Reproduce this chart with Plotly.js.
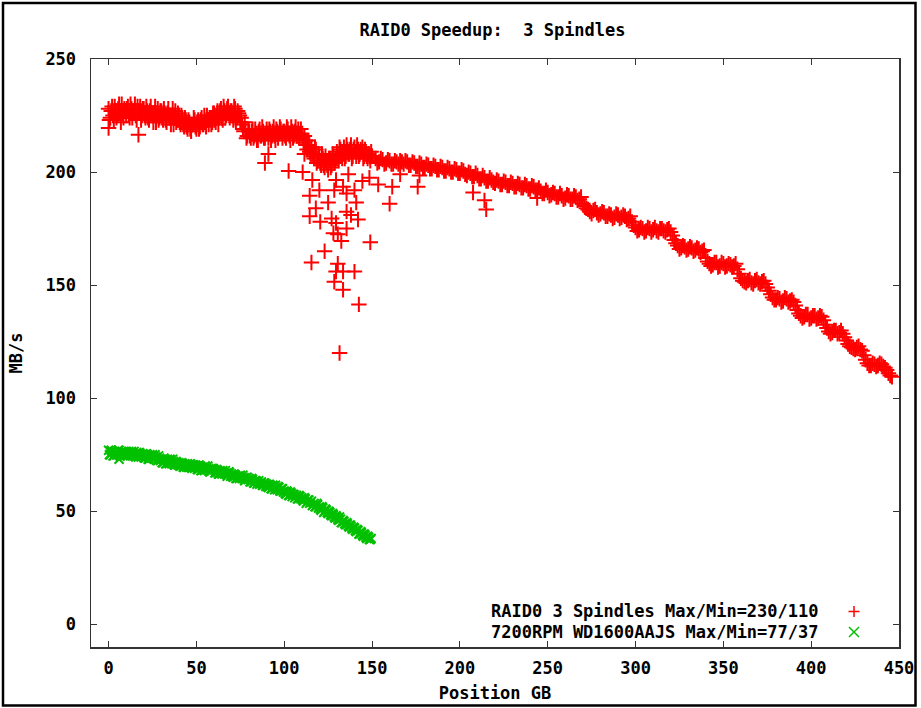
<!DOCTYPE html>
<html>
<head>
<meta charset="utf-8">
<script src="https://cdn.plot.ly/plotly-3.0.1.min.js"></script>
<style>html,body{margin:0;padding:0;background:#fff;}#chart{width:921px;height:708px;}</style>
</head>
<body>
<div id="chart"></div>
<script>
// ---- data ----
const xTicks = [0, 50, 100, 150, 200, 250, 300, 350, 400, 450];
const yTicks = [0, 50, 100, 150, 200, 250];

const redName = "RAID0 3 Spindles Max/Min=230/110";
const greenName = "7200RPM WD1600AAJS Max/Min=77/37";

// RAID0 band, 0..150 GB (whole GB)
const redXa = [0,1,2,3,4,5,6,7,8,9,10,11,12,13,14,15,16,17,18,19,20,21,22,23,24,25,26,27,28,29,30,31,32,33,34,35,36,37,38,39,40,41,42,43,44,45,46,47,48,49,50,51,52,53,54,55,56,57,58,59,60,61,62,63,64,65,66,67,68,69,70,71,72,73,74,75,76,77,78,79,80,81,82,83,84,85,86,87,88,89,90,91,92,93,94,95,96,97,98,99,100,101,102,103,104,105,106,107,108,109,110,111,112,113,114,115,116,117,118,119,120,121,122,123,124,125,126,127,128,129,130,131,132,133,134,135,136,137,138,139,140,141,142,143,144,145,146,147,148,149,150];
const redYa = [228,224,229,223,227,225,230,222,226,228,
  225,229,224,228,226,230,223,227,229,225,
  228,224,227,223,229,225,226,222,228,224,
  227,223,226,222,228,224,225,221,227,223,
  225,221,224,220,223,219,222,218,221,223,
  219,223,220,224,221,222,225,221,224,222,
  226,222,227,224,228,223,227,225,229,224,
  227,223,228,224,226,222,221,218,219,216,
  218,215,219,216,217,214,219,216,218,215,
  219,215,218,216,220,214,218,217,219,215,
  218,215,219,216,220,215,218,216,219,217,
  217,213,214,210,212,208,209,206,210,205,
  207,203,206,202,205,201,206,203,207,205,
  209,205,210,206,211,207,210,208,212,207,
  211,207,210,208,209,206,210,207,208,205,207];

// RAID0 band, 0.5..149.5 GB (half GB)
const redXd = [0.5,1.5,2.5,3.5,4.5,5.5,6.5,7.5,8.5,9.5,10.5,11.5,12.5,13.5,14.5,15.5,16.5,17.5,18.5,19.5,20.5,21.5,22.5,23.5,24.5,25.5,26.5,27.5,28.5,29.5,30.5,31.5,32.5,33.5,34.5,35.5,36.5,37.5,38.5,39.5,40.5,41.5,42.5,43.5,44.5,45.5,46.5,47.5,48.5,49.5,50.5,51.5,52.5,53.5,54.5,55.5,56.5,57.5,58.5,59.5,60.5,61.5,62.5,63.5,64.5,65.5,66.5,67.5,68.5,69.5,70.5,71.5,72.5,73.5,74.5,75.5,76.5,77.5,78.5,79.5,80.5,81.5,82.5,83.5,84.5,85.5,86.5,87.5,88.5,89.5,90.5,91.5,92.5,93.5,94.5,95.5,96.5,97.5,98.5,99.5,100.5,101.5,102.5,103.5,104.5,105.5,106.5,107.5,108.5,109.5,110.5,111.5,112.5,113.5,114.5,115.5,116.5,117.5,118.5,119.5,120.5,121.5,122.5,123.5,124.5,125.5,126.5,127.5,128.5,129.5,130.5,131.5,132.5,133.5,134.5,135.5,136.5,137.5,138.5,139.5,140.5,141.5,142.5,143.5,144.5,145.5,146.5,147.5,148.5,149.5];
const redYd = [223,227,225,229,224,228,226,230,224,227,
  228,225,230,224,227,225,229,226,223,228,
  225,229,224,227,226,222,229,225,223,227,
  224,228,223,226,225,221,228,224,222,226,
  222,225,221,224,220,223,219,221,224,220,
  222,219,223,221,225,220,223,224,221,226,
  223,225,221,227,224,229,224,228,226,227,
  225,229,222,227,225,224,219,222,215,219,
  216,218,215,219,214,218,216,220,215,217,
  217,219,214,218,216,219,215,220,217,218,
  216,220,217,214,218,216,220,217,215,219,
  215,216,212,214,209,211,207,211,204,208,
  204,208,203,207,203,206,202,208,204,206,
  207,211,208,209,206,212,208,210,206,210,
  209,212,207,210,211,207,209,206,207,209];

// RAID0 band, 152..446 GB (even GB)
const redXb = [152,154,156,158,160,162,164,166,168,170,172,174,176,178,180,182,184,186,188,190,192,194,196,198,200,202,204,206,208,210,212,214,216,218,220,222,224,226,228,230,232,234,236,238,240,242,244,246,248,250,252,254,256,258,260,262,264,266,268,270,272,274,276,278,280,282,284,286,288,290,292,294,296,298,300,302,304,306,308,310,312,314,316,318,320,322,324,326,328,330,332,334,336,338,340,342,344,346,348,350,352,354,356,358,360,362,364,366,368,370,372,374,376,378,380,382,384,386,388,390,392,394,396,398,400,402,404,406,408,410,412,414,416,418,420,422,424,426,428,430,432,434,436,438,440,442,444,446];
const redYb = [206,204.5,205.5,204,205,203.5,204.5,205,203.5,204.5,
  203,204,202.5,203.5,202,203,201.5,202.5,201,202,
  200.5,201.5,200,201,199.5,200.5,198.5,199.5,198,198.5,
  197,197.5,196,196.5,195,196,194.5,195.5,194,195,
  193.5,194.5,193,194,192.5,193.5,192,191.5,190.5,191,
  190,190.5,189,189.5,188.5,189.5,188,189,188,186,
  184,182.5,183,182,181.5,182,180.5,181,180,181,
  180,180.5,179.5,178,175.5,174.5,175,174,175,174.5,
  174,175,174,174.5,173.5,170,167.5,166.5,167,166,
  166.5,165.5,166,165,162,159.5,159,160,158.5,159.5,
  158.5,159,158.5,157,153,151.5,152,151,152,151,
  151.5,150.5,147.5,144.5,143.5,144,143,144,143,142.5,
  139,136.5,136,137,135.5,136.5,135.5,136,132.5,129.5,
  129,130,129,128.5,125.5,123,122,122.5,121.5,119,
  115.5,114.5,115,114.5,115,113.5,111,109.5];

// RAID0 band, 153..445 GB (odd GB)
const redXc = [153,155,157,159,161,163,165,167,169,171,173,175,177,179,181,183,185,187,189,191,193,195,197,199,201,203,205,207,209,211,213,215,217,219,221,223,225,227,229,231,233,235,237,239,241,243,245,247,249,251,253,255,257,259,261,263,265,267,269,271,273,275,277,279,281,283,285,287,289,291,293,295,297,299,301,303,305,307,309,311,313,315,317,319,321,323,325,327,329,331,333,335,337,339,341,343,345,347,349,351,353,355,357,359,361,363,365,367,369,371,373,375,377,379,381,383,385,387,389,391,393,395,397,399,401,403,405,407,409,411,413,415,417,419,421,423,425,427,429,431,433,435,437,439,441,443,445];
const redYc = [204,206,203.5,205.5,203.5,205,203.5,204.5,205,203,
  204.5,202.5,204,202,203.5,201.5,203,201,202.5,200.5,
  202,200,201.5,199.5,201,199,200,198,199.5,197,
  198.5,196,197.5,195.5,196.5,194.5,196,194,195.5,193.5,
  195,193,194.5,192.5,194,192,193,190.5,192,189.5,
  191,189,190.5,188,190,188,189.5,187.5,189,185,
  183.5,181.5,183.5,181,182.5,180.5,181.5,179.5,181.5,179.5,
  181,179,180.5,176.5,174,175.5,173.5,175.5,173.5,175.5,
  173.5,175,173.5,175,172,168.5,166,167.5,165.5,167,
  165,166.5,164.5,165.5,160.5,158.5,160,158,160,158,
  159.5,158,159.5,155,152,151,152.5,150.5,152.5,150.5,
  152,149,146,143.5,144.5,142.5,144.5,142.5,143.5,141,
  137.5,135.5,137,135,136.5,135,136.5,134.5,131,128.5,
  130,128.5,130,127,124,122.5,121.5,123,121,117,
  114.5,115.5,114,115.5,114,112.5,110];

// RAID0 scattered points (dip near 110-150 GB and a few strays)
const redOutX = [0,17,91,89,102.5,111.5,110.5,116,114.5,120,114.5,118,120.5,125,129.5,128.5,133.5,135.5,140,141,127,129.5,128,130.5,135.5,135.5,138,142,132.5,123,115.5,130.5,129.5,133.5,140,128.5,133.5,142.5,131.5,149,160,176,161.5,153.5,148.5,144.5,136.5,166,177,207.5,214,215,244];
const redOutY = [219.5,216.5,208,204,200.5,208,200,196.5,189.5,192,180.5,184,178,186.5,196.5,192,193.5,190.5,192,186.5,179.5,177.5,173,172.5,175,182.5,181,179,169.5,165,160,159.5,156,156,156,151.5,148,141.5,120,169,186,193.5,193.5,194.5,197.5,196,199,199,198.5,191,187.5,183.5,188.5];

// single drive, whole GB 0..149 plus one stray at 6 GB
const greenX = [0,1,2,3,4,5,6,7,8,9,10,11,12,13,14,15,16,17,18,19,20,21,22,23,24,25,26,27,28,29,30,31,32,33,34,35,36,37,38,39,40,41,42,43,44,45,46,47,48,49,50,51,52,53,54,55,56,57,58,59,60,61,62,63,64,65,66,67,68,69,70,71,72,73,74,75,76,77,78,79,80,81,82,83,84,85,86,87,88,89,90,91,92,93,94,95,96,97,98,99,100,101,102,103,104,105,106,107,108,109,110,111,112,113,114,115,116,117,118,119,120,121,122,123,124,125,126,127,128,129,130,131,132,133,134,135,136,137,138,139,140,141,142,143,144,145,146,147,148,149,6];
const greenY = [77,75,76.5,74.5,76,75.5,77,75,76,74.5,
  76,74.5,75.5,76.5,74.5,75,76,74,75.5,74.5,
  75,73.5,74.5,73,74,75,73,74,72.5,73.5,
  73,71.5,72.5,71,72,73,71,72,70.5,71.5,
  71.5,70,71,69.5,70.5,71,69.5,70,70.5,69,
  70,68.5,69.5,68,69,70,68.5,69,67.5,68.5,
  68.5,67,68,66.5,67.5,68,66.5,67,66,67,
  66.5,65,66,64.5,65.5,66,64.5,65,64,65,
  64.5,63,64,62.5,63.5,63,62,63,61.5,62.5,
  62,60.5,61.5,60,61,61.5,59.5,60.5,59,60,
  59,57.5,58.5,57,58,57.5,56,57,55.5,56.5,
  56,54.5,55.5,54,55,54,52.5,53.5,52,53,
  52,50.5,51.5,50,50.5,49,49.5,48,48.5,47,
  47.5,46,46.5,45,45.5,44,44.5,43,43.5,42,
  42.5,41,41.5,40,40.5,39,39.5,38,38.5,37.5,
  73];

// single drive, half GB 0.5..149.5
const greenX2 = [0.5,1.5,2.5,3.5,4.5,5.5,6.5,7.5,8.5,9.5,10.5,11.5,12.5,13.5,14.5,15.5,16.5,17.5,18.5,19.5,20.5,21.5,22.5,23.5,24.5,25.5,26.5,27.5,28.5,29.5,30.5,31.5,32.5,33.5,34.5,35.5,36.5,37.5,38.5,39.5,40.5,41.5,42.5,43.5,44.5,45.5,46.5,47.5,48.5,49.5,50.5,51.5,52.5,53.5,54.5,55.5,56.5,57.5,58.5,59.5,60.5,61.5,62.5,63.5,64.5,65.5,66.5,67.5,68.5,69.5,70.5,71.5,72.5,73.5,74.5,75.5,76.5,77.5,78.5,79.5,80.5,81.5,82.5,83.5,84.5,85.5,86.5,87.5,88.5,89.5,90.5,91.5,92.5,93.5,94.5,95.5,96.5,97.5,98.5,99.5,100.5,101.5,102.5,103.5,104.5,105.5,106.5,107.5,108.5,109.5,110.5,111.5,112.5,113.5,114.5,115.5,116.5,117.5,118.5,119.5,120.5,121.5,122.5,123.5,124.5,125.5,126.5,127.5,128.5,129.5,130.5,131.5,132.5,133.5,134.5,135.5,136.5,137.5,138.5,139.5,140.5,141.5,142.5,143.5,144.5,145.5,146.5,147.5,148.5,149.5];
const greenY2 = [75,77,74.5,76.5,75,77,74.5,76.5,75,76.5,
  74.5,76.5,74.5,75.5,76.5,74,75.5,76,74,75.5,
  73.5,75.5,73,75,73.5,73.5,75,72.5,74.5,72.5,
  71.5,73.5,71,73,71,71.5,73,70.5,72,70.5,
  70,71.5,69.5,71,69.5,69.5,71,69,70.5,70.5,
  68.5,70.5,68,69.5,68,68.5,70,67.5,69,69,
  67,68.5,66.5,68,66.5,67,68,65.5,67.5,65.5,
  65.5,66.5,64.5,65.5,64.5,65,66,63.5,65,64,
  63,64.5,62.5,63.5,62,63.5,62.5,61.5,62.5,61,
  61,62,60,61.5,59.5,60.5,61,59,60,58.5,
  58,59,57,58.5,56.5,57.5,57,55.5,57,55.5,
  55,56,53.5,55,53.5,54.5,53,52,53.5,51.5,
  51,52,49.5,51,49.5,50,48.5,49,47.5,48,
  46.5,47.5,45,46,44.5,45,43.5,44,42.5,43,
  41.5,42,40,41,39.5,40,38.5,39,37.5,38];

// ---- styling ----
const RED = "rgb(255,0,0)";
const GREEN = "rgb(0,192,0)";
const FONT = "DejaVu Sans Mono, Liberation Mono, monospace";
const FS = 17;
const W = 921, H = 708;
const M = {l: 91, r: 22, t: 59, b: 61};
const PW = W - M.l - M.r, PH = H - M.t - M.b;
const px2x = p => (p - M.l) / PW;
const px2y = p => (H - M.b - p) / PH;
const textFont = {family: FONT, size: FS, color: "#000", weight: "bold"};

const red = {
  type: "scatter", mode: "markers", name: redName, showlegend: false,
  x: redXa.concat(redXd, redXb, redXc, redOutX), y: redYa.concat(redYd, redYb, redYc, redOutY),
  marker: {symbol: "cross-thin-open", size: 11, color: RED, line: {color: RED, width: 2}}
};
const green = {
  type: "scatter", mode: "markers", name: greenName, showlegend: false,
  x: greenX.concat(greenX2), y: greenY.concat(greenY2),
  marker: {symbol: "x-thin-open", size: 9, color: GREEN, line: {color: GREEN, width: 2}}
};

const axisBase = {
  showline: true, linecolor: "#333", linewidth: 1.5, mirror: "ticks",
  ticks: "inside", ticklen: 6, tickwidth: 1, tickcolor: "#333",
  showgrid: false, zeroline: false,
  tickfont: textFont
};

const layout = {
  width: W, height: H, margin: {l: M.l, r: M.r, t: M.t, b: M.b, pad: 0},
  paper_bgcolor: "#fff", plot_bgcolor: "#fff",
  font: {family: FONT, color: "#000"},
  title: {text: "RAID0 Speedup:\u00a0\u00a03 Spindles", x: px2x(492.5), xref: "paper", xanchor: "center",
          y: 1 - 30 / H, yanchor: "middle", font: textFont},
  xaxis: Object.assign({}, axisBase, {
    range: [-10, 450], tickvals: xTicks, ticktext: xTicks.map(String), ticklabelstandoff: 5,
    title: {text: "Position GB", standoff: 10, font: textFont}
  }),
  yaxis: Object.assign({}, axisBase, {
    range: [-10, 250], tickvals: yTicks, ticktext: yTicks.map(String), ticklabelstandoff: 10,
    title: {text: "MB/s", standoff: 18, font: textFont}
  }),
  annotations: [
    {xref: "paper", yref: "paper", x: px2x(821), y: px2y(610.5), xanchor: "right", yanchor: "middle",
     text: redName, showarrow: false, font: textFont},
    {xref: "paper", yref: "paper", x: px2x(821), y: px2y(631.5), xanchor: "right", yanchor: "middle",
     text: greenName, showarrow: false, font: textFont}
  ],
  shapes: [
    // legend keys
    {type: "line", xref: "paper", yref: "paper", x0: px2x(848.5), x1: px2x(859.5), y0: px2y(611.5), y1: px2y(611.5), line: {color: RED, width: 1.5}},
    {type: "line", xref: "paper", yref: "paper", x0: px2x(854), x1: px2x(854), y0: px2y(606), y1: px2y(617), line: {color: RED, width: 1.5}},
    {type: "line", xref: "paper", yref: "paper", x0: px2x(849), x1: px2x(859), y0: px2y(627), y1: px2y(637), line: {color: GREEN, width: 1.5}},
    {type: "line", xref: "paper", yref: "paper", x0: px2x(849), x1: px2x(859), y0: px2y(637), y1: px2y(627), line: {color: GREEN, width: 1.5}},
    // outer frame
    {type: "rect", xref: "paper", yref: "paper", x0: px2x(3), x1: px2x(915.5), y0: px2y(705.5), y1: px2y(3), line: {color: "#000", width: 2.5}}
  ]
};

Plotly.newPlot("chart", [red, green], layout, {displayModeBar: false, staticPlot: true});
</script>
</body>
</html>
